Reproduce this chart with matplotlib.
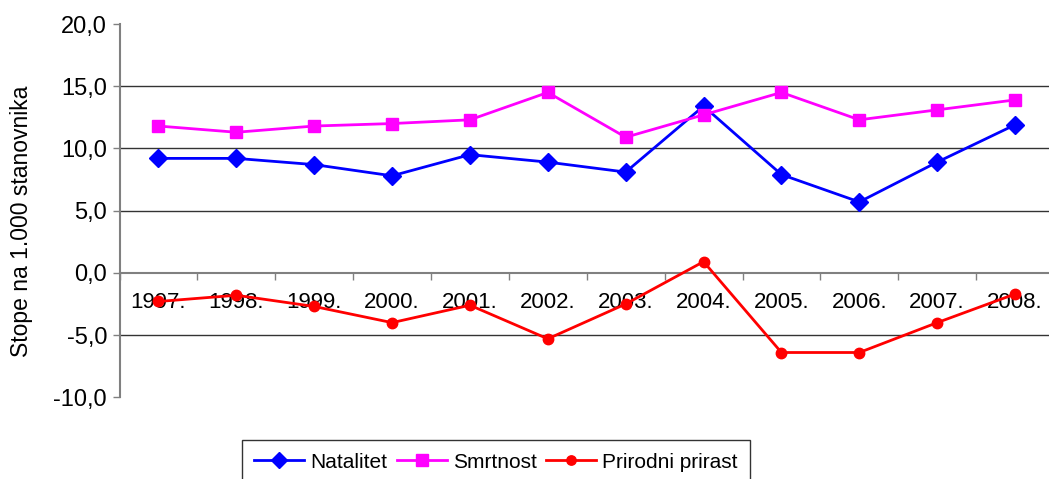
import matplotlib
matplotlib.use("Agg")
import matplotlib.pyplot as plt
from matplotlib.ticker import FixedLocator, FuncFormatter

years = ["1997.", "1998.", "1999.", "2000.", "2001.", "2002.",
         "2003.", "2004.", "2005.", "2006.", "2007.", "2008."]
natalitet = [9.2, 9.2, 8.7, 7.8, 9.5, 8.9, 8.1, 13.4, 7.9, 5.7, 8.9, 11.9]
smrtnost = [11.8, 11.3, 11.8, 12.0, 12.3, 14.5, 10.9, 12.7, 14.5, 12.3, 13.1, 13.9]
prirast = [-2.3, -1.8, -2.7, -4.0, -2.6, -5.3, -2.5, 0.9, -6.4, -6.4, -4.0, -1.7]
y_ticks = [-10, -5, 0, 5, 10, 15, 20]

plt.rcParams['font.family'] = ['Liberation Sans', 'DejaVu Sans']

fig = plt.figure(figsize=(10.49, 4.79), dpi=100)
ax = fig.add_axes([119.5/1049, 1 - 397.3/479, (1054 - 119.5)/1049, (397.3 - 24)/479])

x = list(range(len(years)))
l1, = ax.plot(x, natalitet, color='#0000FF', lw=2, marker='D', ms=9, label='Natalitet', zorder=3)
l2, = ax.plot(x, smrtnost, color='#FF00FF', lw=2, marker='s', ms=9, label='Smrtnost', zorder=3)
l3, = ax.plot(x, prirast, color='#FF0000', lw=2, marker='o', ms=7.5, label='Prirodni prirast', zorder=3)

ax.set_xlim(-0.5, len(years) - 0.5)
ax.set_ylim(-10, 20)

for v in [-5, 5, 10, 15]:
    ax.axhline(v, color='#333333', lw=1, zorder=1)

ax.set_yticks(y_ticks)
ax.yaxis.set_major_formatter(FuncFormatter(lambda v, p: f"{v:.1f}".replace('.', ',')))
ax.tick_params(axis='y', labelsize=17, length=5, width=1, color='#808080', pad=4)

ax.set_xticks(x)
ax.set_xticklabels(years)
ax.tick_params(axis='x', which='major', length=0, labelsize=16, pad=14)
ax.xaxis.set_minor_locator(FixedLocator([i - 0.5 for i in range(len(years) + 1)]))
ax.tick_params(axis='x', which='minor', length=5, width=1, color='#808080', direction='out')

for s in ['top', 'right']:
    ax.spines[s].set_visible(False)
ax.spines['bottom'].set_position(('data', 0))
ax.spines['bottom'].set_color('#808080')
ax.spines['left'].set_color('#808080')
ax.spines['left'].set_linewidth(1.5)
ax.spines['bottom'].set_linewidth(1.5)

ax.set_ylabel('Stope na 1.000 stanovnika', fontsize=16.5)
ax.yaxis.set_label_coords((33 - 119.5) / 934.5, 0.472)

leg = fig.legend(handles=[l1, l2, l3], loc='upper center',
                 bbox_to_anchor=(496/1049, 1 - 440/479), ncol=3, fontsize=15,
                 frameon=True, fancybox=False, edgecolor='black',
                 handlelength=2.4, handletextpad=0.3, columnspacing=0.45,
                 borderpad=0.6, borderaxespad=0, markerscale=0.9)
leg.get_frame().set_linewidth(1)

fig.savefig('out.png', dpi=100)
